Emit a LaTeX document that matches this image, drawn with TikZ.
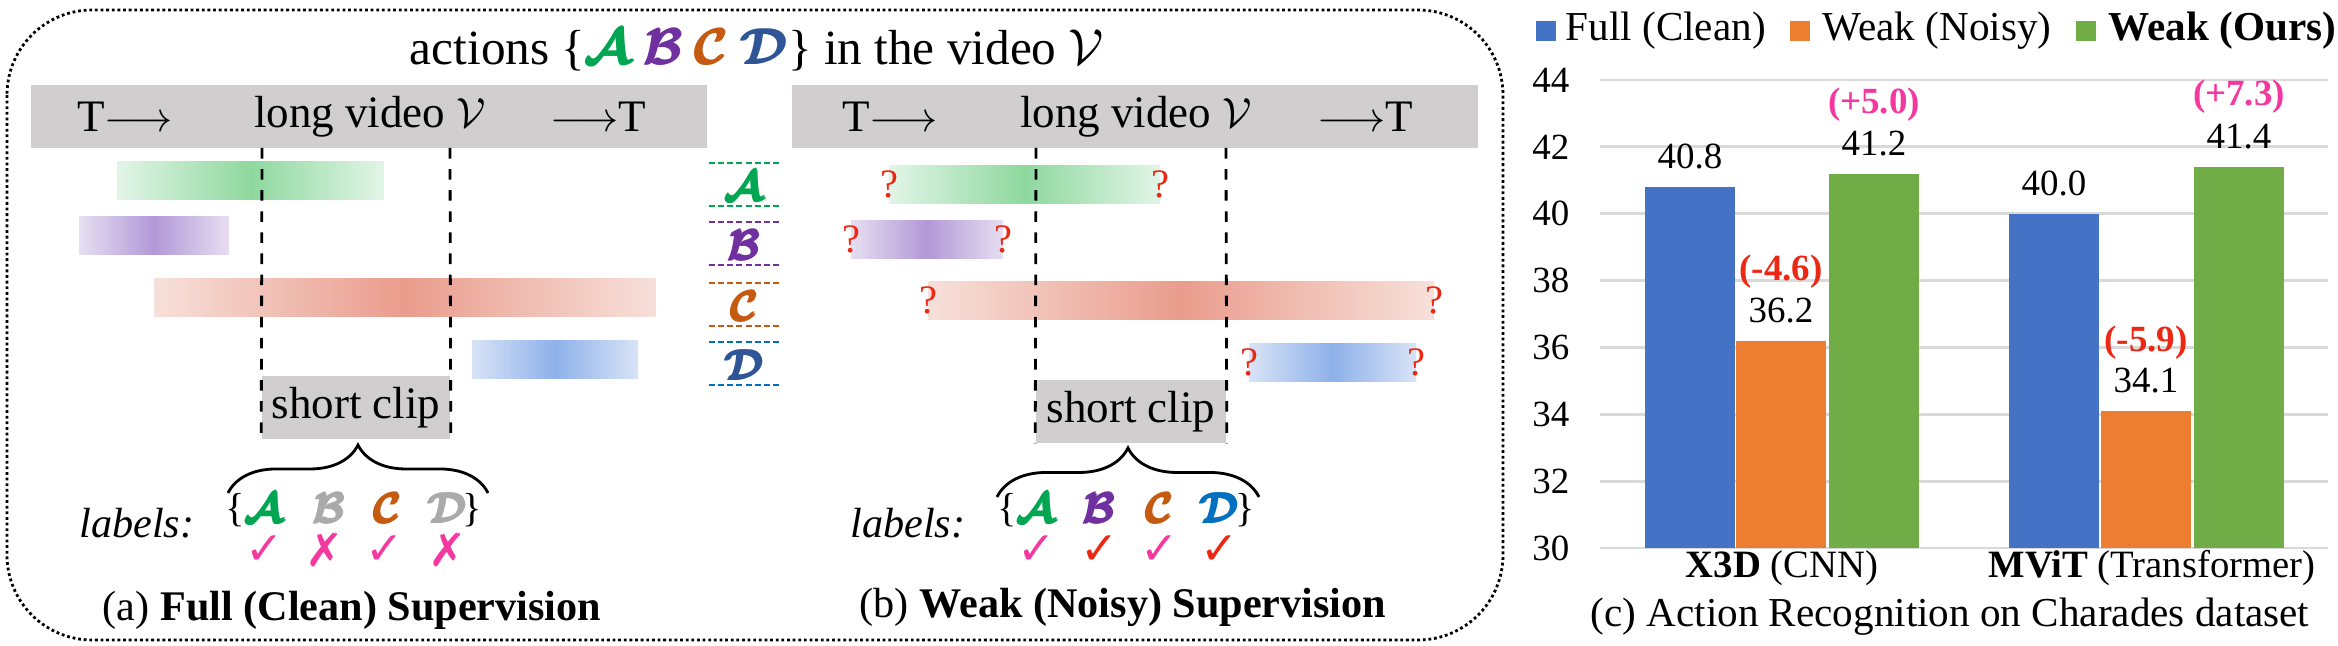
\documentclass[tikz,border=0pt]{standalone}
\usepackage{amsmath}
\usepackage{bm}
\usepackage{fontspec}
\setmainfont{Liberation Serif}
\newfontfamily\markfont{DejaVu Sans}
\usepackage{tikz}
\usetikzlibrary{decorations.pathreplacing}

\definecolor{actA}{RGB}{0,166,81}
\definecolor{actB}{RGB}{112,48,160}
\definecolor{actC}{RGB}{197,90,17}
\definecolor{actD}{RGB}{47,85,151}
\definecolor{actDb}{RGB}{0,112,192}
\definecolor{lblgray}{RGB}{170,170,170}
\definecolor{okpink}{RGB}{245,55,160}
\definecolor{badred}{RGB}{235,40,20}
\definecolor{barbg}{RGB}{208,206,206}
\definecolor{fullblue}{RGB}{68,114,196}
\definecolor{noisyorange}{RGB}{237,125,49}
\definecolor{oursgreen}{RGB}{112,173,71}
\definecolor{gridgray}{RGB}{217,217,217}
\definecolor{barAmid}{RGB}{142,216,158}
\definecolor{barAend}{RGB}{226,245,231}
\definecolor{barBmid}{RGB}{178,152,215}
\definecolor{barBend}{RGB}{230,222,241}
\definecolor{barCmid}{RGB}{234,156,140}
\definecolor{barCend}{RGB}{247,224,218}
\definecolor{barDmid}{RGB}{142,177,234}
\definecolor{barDend}{RGB}{216,227,246}

\newcommand{\actletter}[2]{\textcolor{#1}{$\pmb{\bm{\mathcal{#2}}}$}}

\begin{document}
\begin{tikzpicture}[x=0.01cm,y=-0.01cm,
    txt/.style={inner sep=0pt,font=\fontsize{12.8}{15}\selectfont},
    capt/.style={inner sep=0pt,font=\fontsize{12}{14}\selectfont},
    lbl/.style={inner sep=0pt,font=\fontsize{11.5}{13}\selectfont},
    okmark/.style={inner sep=0pt,font=\fontsize{13}{15}\markfont},
    qmark/.style={inner sep=0pt,text=badred,font=\fontsize{11.5}{13}\selectfont},
    num/.style={inner sep=0pt,font=\fontsize{10.5}{12}\selectfont},
    cliplines/.style={dashed,line width=0.8pt},
    legdash/.style={line width=0.7pt,dash pattern=on 1.7pt off 0.9pt}]
\useasboundingbox (0,0) rectangle (2338,646);

%dotted frame round (a) and (b)
    \draw[line width=0.8pt,dash pattern=on 0.8pt off 0.8pt,rounded corners=0.85cm] (7,10) rectangle (1503,640);
    \node[inner sep=0pt,font=\fontsize{14}{16}\selectfont] (title) at (757,50)
        {actions \{\actletter{actA}{A} \actletter{actB}{B} \actletter{actC}{C} \actletter{actD}{D}\} in the video $\mathcal{V}$};

%draw long video bars
    \fill[barbg] (31,85) rectangle (707,148);
    \fill[barbg] (792,85) rectangle (1478,148);
    \node[txt] (tstartA) at (125,117) {T$\longrightarrow$};
    \node[txt] (videoA) at (370,117) {long video $\mathcal{V}$};
    \node[txt] (tendA) at (598,117) {$\longrightarrow$T};
    \node[txt] (tstartB) at (890,117) {T$\longrightarrow$};
    \node[txt] (videoB) at (1136,117) {long video $\mathcal{V}$};
    \node[txt] (tendB) at (1365,117) {$\longrightarrow$T};

%draw action bars of (a)
    \foreach \xa/\xb/\ya/\c in {117/384/162/A, 79/229/217/B, 154/656/279/C, 472/638/341/D}
    \shade[left color=bar\c end,right color=bar\c end,middle color=bar\c mid] (\xa,\ya) rectangle (\xb,\ya+38);

%draw action bars of (b), with question marks
    \foreach \xa/\xb/\ya/\c in {889/1160/166/A, 851/1003/221/B, 928/1434/282/C, 1249/1416/344/D}{
    \shade[left color=bar\c end,right color=bar\c end,middle color=bar\c mid] (\xa,\ya) rectangle (\xb,\ya+38);
    \node[qmark] (q\c start) at (\xa,\ya+18) {?};
    \node[qmark] (q\c end) at (\xb,\ya+18) {?};
    }

%draw legend between the panels
    \foreach \ya/\c/\cl in {163/A/actA, 222/B/actB, 283/C/actC, 342/D/actDb}{
    \draw[legdash,\cl] (709,\ya) -- (782,\ya);
    \draw[legdash,\cl] (709,\ya+43) -- (782,\ya+43);
    }
    \node[lbl] (legA) at (745,186) {\actletter{actA}{A}};
    \node[lbl] (legB) at (745,245) {\actletter{actB}{B}};
    \node[lbl] (legC) at (745,306) {\actletter{actC}{C}};
    \node[lbl] (legD) at (745,365) {\actletter{actD}{D}};

%draw short clips
    \node[txt,fill=barbg,minimum width=1.88cm,minimum height=0.63cm] (clipA) at (356,407.5) {short clip};
    \node[txt,fill=barbg,minimum width=1.90cm,minimum height=0.63cm] (clipB) at (1131,411.5) {short clip};
    \draw[cliplines] (262,148) -- (clipA.south west);
    \draw[cliplines] (450,148) -- (clipA.south east);
    \draw[cliplines] (1036,148) -- (clipB.south west);
    \draw[cliplines] (1226,148) -- (clipB.south east);

%draw braces
    \draw[decorate,decoration={brace,amplitude=0.48cm},line width=0.8pt] (228,493) -- (488,493);
    \draw[decorate,decoration={brace,amplitude=0.49cm},line width=0.8pt] (997,497) -- (1259,497);

%draw labels of (a)
    \node[capt] (labelsA) at (137,523) {\textit{labels:}};
    \node[lbl] (openA) at (235,510) {\{};
    \node[lbl] (closeA) at (472,510) {\}};
    \node[lbl] (aA) at (265,508) {\actletter{actA}{A}};
    \node[lbl] (aB) at (330,508) {\actletter{lblgray}{B}};
    \node[lbl] (aC) at (388,508) {\actletter{actC}{C}};
    \node[lbl] (aD) at (448,508) {\actletter{lblgray}{D}};
    \node[okmark,text=okpink] (okaA) at (265,550) {✓};
    \node[okmark,text=okpink] (okaB) at (325,550) {✗};
    \node[okmark,text=okpink] (okaC) at (385,550) {✓};
    \node[okmark,text=okpink] (okaD) at (448,550) {✗};

%draw labels of (b)
    \node[capt] (labelsB) at (908,523) {\textit{labels:}};
    \node[lbl] (openB) at (1007,510) {\{};
    \node[lbl] (closeB) at (1245,510) {\}};
    \node[lbl] (bA) at (1037,508) {\actletter{actA}{A}};
    \node[lbl] (bB) at (1100,508) {\actletter{actB}{B}};
    \node[lbl] (bC) at (1160,508) {\actletter{actC}{C}};
    \node[lbl] (bD) at (1220,508) {\actletter{actDb}{D}};
    \node[okmark,text=okpink] (okbA) at (1037,550) {✓};
    \node[okmark,text=badred] (okbB) at (1100,550) {✓};
    \node[okmark,text=okpink] (okbC) at (1160,550) {✓};
    \node[okmark,text=badred] (okbD) at (1220,550) {✓};

%captions of (a) and (b)
    \node[capt] (captA) at (352,610) {(a) \textbf{Full (Clean) Supervision}};
    \node[capt] (captB) at (1123,607) {(b) \textbf{Weak (Noisy) Supervision}};

%draw chart grid and ticks
    \foreach \v in {30,32,...,44}{
    \draw[gridgray,line width=0.8pt] (1600,{548-(\v-30)*33.43}) -- (2328,{548-(\v-30)*33.43});
    \node[num,anchor=east] (tick\v) at (1570,{548-(\v-30)*33.43}) {\v};
    }

%draw chart bars with values
    \foreach \xl/\v/\c in {1645/40.8/fullblue, 1736/36.2/noisyorange, 1829/41.2/oursgreen,
                           2009/40.0/fullblue, 2101/34.1/noisyorange, 2194/41.4/oursgreen}{
    \fill[\c] (\xl,548) rectangle ({\xl+90},{548-(\v-30)*33.43});
    \node[num] (val\xl) at ({\xl+45},{518-(\v-30)*33.43}) {\v};
    }
    \node[num,font=\fontsize{10.5}{12}\bfseries,text=badred] (dropX) at (1781,272) {(-4.6)};
    \node[num,font=\fontsize{10.5}{12}\bfseries,text=okpink] (gainX) at (1874,105) {(+5.0)};
    \node[num,font=\fontsize{10.5}{12}\bfseries,text=badred] (dropM) at (2146,343) {(-5.9)};
    \node[num,font=\fontsize{10.5}{12}\bfseries,text=okpink] (gainM) at (2239,97) {(+7.3)};

%chart legend
    \fill[fullblue] (1536,21) rectangle (1556,41);
    \fill[noisyorange] (1790,21) rectangle (1810,41);
    \fill[oursgreen] (2076,21) rectangle (2096,41);
    \node[capt,anchor=west,font=\fontsize{11.7}{14}\selectfont] (legfull) at (1565,31) {Full (Clean)};
    \node[capt,anchor=west,font=\fontsize{11.7}{14}\selectfont] (legnoisy) at (1822,31) {Weak (Noisy)};
    \node[capt,anchor=west,font=\fontsize{11.7}{14}\bfseries] (legours) at (2108,31) {Weak (Ours)};

%chart axis labels and caption
    \node[capt,font=\fontsize{11}{13}\selectfont] (catX) at (1782,568) {\textbf{X3D} (CNN)};
    \node[capt,font=\fontsize{11}{13}\selectfont] (catM) at (2152,568) {\textbf{MViT} (Transformer)};
    \node[capt,font=\fontsize{11.7}{14}\selectfont] (captC) at (1950,617) {(c) Action Recognition on Charades dataset};

\end{tikzpicture}
\end{document}
